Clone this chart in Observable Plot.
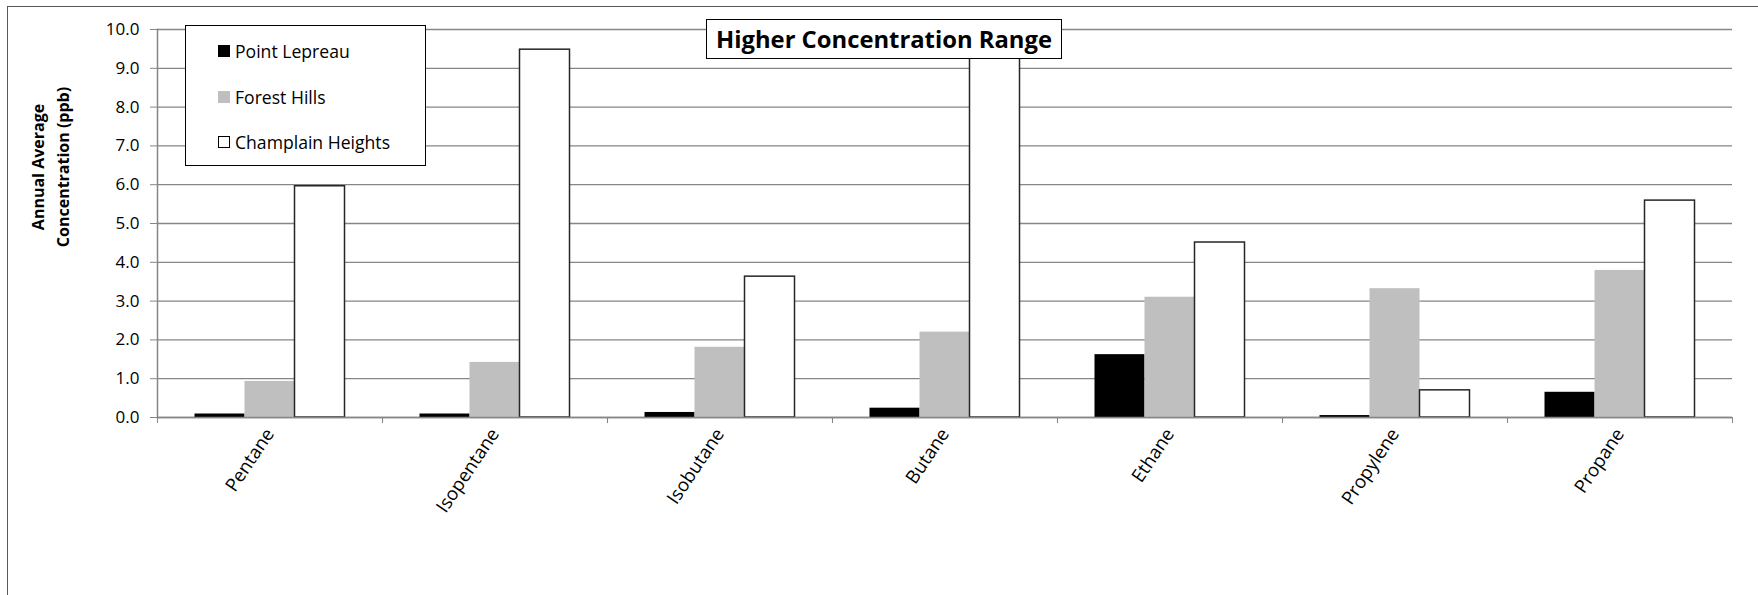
<!DOCTYPE html>
<html>
<head>
<meta charset="utf-8">
<script src="https://cdn.jsdelivr.net/npm/d3@7"></script>
<script src="https://cdn.jsdelivr.net/npm/@observablehq/plot@0.6"></script>
<style>
  html, body { margin: 0; padding: 0; background: #fff; }
  #wrap { position: relative; width: 1758px; height: 595px; overflow: hidden; font-family: "Open Sans", sans-serif; }
  #border { position: absolute; left: 7px; top: 6px; width: 1800px; height: 700px; border-left: 1.5px solid #595959; border-top: 1.5px solid #595959; box-sizing: border-box; }
  #chart { position: absolute; left: 0; top: 0; }
  #ytitle { position: absolute; left: 51px; top: 167px; transform: translate(-50%, -50%) rotate(-90deg); text-align: center; font-weight: bold; font-size: 16px; line-height: 25px; white-space: nowrap; color: #000; }
  #legend { position: absolute; left: 185px; top: 25px; width: 241px; height: 141px; box-sizing: border-box; border: 1.2px solid #000; background: #fff; }
  .lg { position: absolute; left: 32px; font-size: 17.6px; line-height: 20px; color: #000; white-space: nowrap; display: flex; align-items: center; }
  .sw { display: inline-block; width: 12px; height: 12px; box-sizing: border-box; margin-right: 5px; }
  #title { position: absolute; left: 706px; top: 19px; width: 356px; height: 40px; box-sizing: border-box; border: 1.5px solid #000; background: #fff; font-weight: bold; font-size: 23.8px; display: flex; align-items: center; justify-content: center; color: #000; white-space: nowrap; }
</style>
</head>
<body>
<div id="wrap">
  <div id="chart"></div>
  <div id="border"></div>
  <div id="ytitle">Annual Average<br>Concentration (ppb)</div>
  <div id="legend"></div>
  <div id="title">Higher Concentration Range</div>
</div>
<script>
const categories = ["Pentane", "Isopentane", "Isobutane", "Butane", "Ethane", "Propylene", "Propane"];
const seriesNames = ["Point Lepreau", "Forest Hills", "Champlain Heights"];
const seriesColors = ["#000000", "#bfbfbf", "#ffffff"];
const pointLepreau = [0.09, 0.09, 0.13, 0.24, 1.62, 0.05, 0.65];
const forestHills = [0.93, 1.42, 1.81, 2.20, 3.10, 3.32, 3.79];
const champlainHeights = [5.96, 9.48, 3.63, 9.80, 4.51, 0.70, 5.59];
const yTicks = [0, 1, 2, 3, 4, 5, 6, 7, 8, 9, 10];

const seriesValues = [pointLepreau, forestHills, champlainHeights];
const data = [];
categories.forEach((c, i) => {
  seriesNames.forEach((s, j) => data.push({category: c, series: s, value: seriesValues[j][i]}));
});

const W = 1758, H = 595;
const mL = 156.5, mR = 26, mT = 29, mB = 178;
const facetStep = (W - mL - mR) / categories.length;

const gridColor = "#868686";

const plot = Plot.plot({
  width: W,
  height: H,
  marginLeft: mL,
  marginRight: mR,
  marginTop: mT,
  marginBottom: mB,
  style: {fontFamily: "'Open Sans', sans-serif", fontSize: "16px", color: "#000", background: "transparent"},
  fx: {domain: categories, padding: 0, label: null},
  x: {domain: seriesNames, paddingInner: 0, paddingOuter: 0.75, axis: null},
  y: {domain: [0, 10], label: null},
  color: {domain: seriesNames, range: seriesColors},
  marks: [
    Plot.gridY(yTicks, {stroke: gridColor, strokeOpacity: 1, strokeWidth: 1.3}),
    Plot.barY(data, {fx: "category", x: "series", y: "value", fill: "series"}),
    Plot.barY(data.filter(d => d.series === seriesNames[2]), {fx: "category", x: "series", y: "value", fill: "none", stroke: "#262626", strokeWidth: 1.5}),
    Plot.ruleY([0], {stroke: gridColor, strokeWidth: 1.5}),
    Plot.frame({anchor: "left", facetAnchor: "left", stroke: gridColor, strokeWidth: 1.5}),
    Plot.axisY(yTicks, {anchor: "left", tickFormat: d3.format(".1f"), tickSize: 7, tickPadding: 11, stroke: gridColor, fill: "#000", fontSize: 17, label: null}),
    Plot.axisFx({anchor: "bottom", tickSize: 6, text: null, dx: -facetStep / 2, stroke: gridColor, label: null}),
    Plot.axisFx([categories[categories.length - 1]], {anchor: "bottom", tickSize: 6, text: null, dx: facetStep / 2, stroke: gridColor, label: null}),
    Plot.axisFx({anchor: "bottom", tickSize: 0, tickRotate: -56, tickPadding: 13, fill: "#000", fontSize: 18.5, label: null})
  ]
});
document.getElementById("chart").appendChild(plot);

const legend = document.getElementById("legend");
const rowTops = [15, 61, 106];
seriesNames.forEach((s, i) => {
  const row = document.createElement("div");
  row.className = "lg";
  row.style.top = rowTops[i] + "px";
  const sw = document.createElement("span");
  sw.className = "sw";
  sw.style.background = seriesColors[i];
  if (seriesColors[i] === "#ffffff") sw.style.border = "1.2px solid #000";
  row.appendChild(sw);
  row.appendChild(document.createTextNode(s));
  legend.appendChild(row);
});
</script>
</body>
</html>
